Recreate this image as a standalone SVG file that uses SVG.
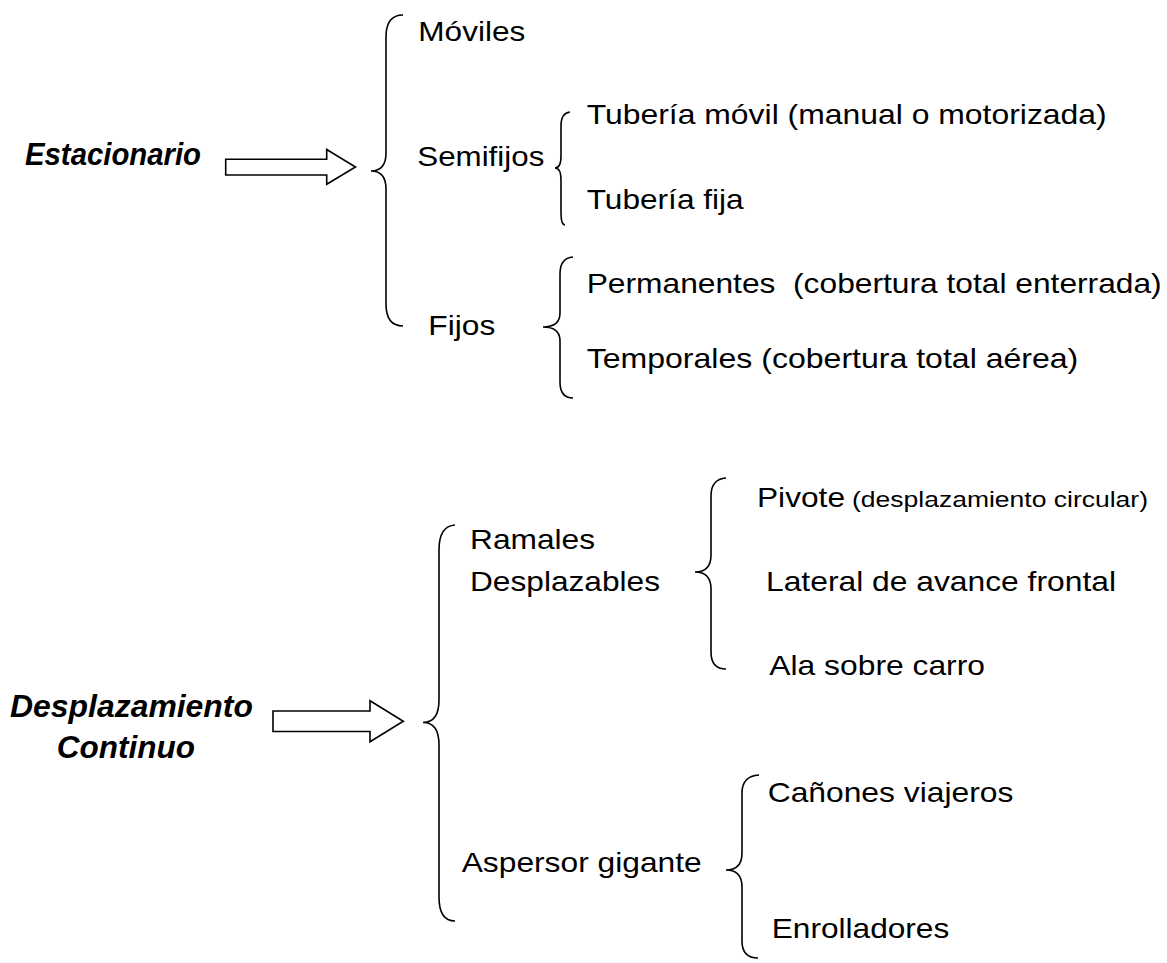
<svg xmlns="http://www.w3.org/2000/svg" width="1167" height="963" viewBox="0 0 1167 963">
<style>
text{font-family:"Liberation Sans",Arial,sans-serif;fill:#000}
.t{font-size:28px}
.b{font-size:31px;font-weight:bold;font-style:italic}
.s{font-size:22px}
.br{fill:none;stroke:#000;stroke-width:1.6}
.ar{fill:#fff;stroke:#000;stroke-width:1.6;stroke-linejoin:miter}
</style>
<rect width="1167" height="963" fill="#fff"/>
<g id="connectors">
<polygon class="ar" points="225.7,159.3 326.7,159.3 326.7,149.5 355.5,167 326.7,184.3 326.7,175 225.7,175"/>
<polygon class="ar" points="273,711 370,711 370,700.7 403.3,721.3 370,741.7 370,731.5 273,731.5"/>
<path class="br" d="M403,15 Q386,15 386,37 L386,153 Q386,171 371,171 Q386,171 386,189 L386,304 Q386,326 403,326"/>
<path class="br" d="M570,112 Q561,113 561,126 L561,156 Q561,168 555,168 Q561,168 561,180 L561,213 Q561,225 565,225"/>
<path class="br" d="M573,257 Q560,258 560,274 L560,313 Q560,327 543,327 Q560,327 560,341 L560,382 Q560,398 573,398"/>
<path class="br" d="M455,525 Q439,526 439,550 L439,700 Q439,722.5 423,722.5 Q439,722.5 439,745 L439,897 Q439,921 455,921"/>
<path class="br" d="M726,478 Q711,479 711,496 L711,555 Q711,572 695,572 Q711,572 711,589 L711,652 Q711,669 726,669"/>
<path class="br" d="M759,775 Q742,776 742,793 L742,853 Q742,870 726,870 Q742,870 742,887 L742,941 Q742,958 758,958"/>
</g>
<g id="estacionario"><text class="b" x="25" y="165.3" textLength="176" lengthAdjust="spacingAndGlyphs">Estacionario</text></g>
<g id="moviles"><text class="t" x="418.3" y="40.7" textLength="107" lengthAdjust="spacingAndGlyphs">Móviles</text></g>
<g id="semifijos"><text class="t" x="417.3" y="166" textLength="127" lengthAdjust="spacingAndGlyphs">Semifijos</text></g>
<g id="fijos"><text class="t" x="428.3" y="335" textLength="67" lengthAdjust="spacingAndGlyphs">Fijos</text></g>
<g id="tuberia-movil"><text class="t" x="586.7" y="124.3" textLength="520" lengthAdjust="spacingAndGlyphs">Tubería móvil (manual o motorizada)</text></g>
<g id="tuberia-fija"><text class="t" x="586.7" y="209.3" textLength="157" lengthAdjust="spacingAndGlyphs">Tubería fija</text></g>
<g id="permanentes"><text class="t" x="586.7" y="293.3" textLength="575" lengthAdjust="spacingAndGlyphs" xml:space="preserve">Permanentes  (cobertura total enterrada)</text></g>
<g id="temporales"><text class="t" x="586.7" y="368.3" textLength="491.6" lengthAdjust="spacingAndGlyphs">Temporales (cobertura total aérea)</text></g>
<g id="desplazamiento">
<text class="b" x="10" y="717.3" textLength="243" lengthAdjust="spacingAndGlyphs">Desplazamiento</text>
<text class="b" x="56.7" y="758.3" textLength="138.3" lengthAdjust="spacingAndGlyphs">Continuo</text>
</g>
<g id="ramales">
<text class="t" x="470" y="549.3" textLength="125" lengthAdjust="spacingAndGlyphs">Ramales</text>
<text class="t" x="470" y="590.7" textLength="190" lengthAdjust="spacingAndGlyphs">Desplazables</text>
</g>
<g id="aspersor"><text class="t" x="461.7" y="871.7" textLength="240" lengthAdjust="spacingAndGlyphs">Aspersor gigante</text></g>
<g id="pivote">
<text class="t" x="757" y="507" textLength="88" lengthAdjust="spacingAndGlyphs">Pivote</text>
<text class="s" x="852" y="507" textLength="296" lengthAdjust="spacingAndGlyphs">(desplazamiento circular)</text>
</g>
<g id="lateral"><text class="t" x="766" y="590.7" textLength="350" lengthAdjust="spacingAndGlyphs">Lateral de avance frontal</text></g>
<g id="ala"><text class="t" x="769.3" y="675" textLength="215.7" lengthAdjust="spacingAndGlyphs">Ala sobre carro</text></g>
<g id="canones"><text class="t" x="767.7" y="802.3" textLength="245.6" lengthAdjust="spacingAndGlyphs">Cañones viajeros</text></g>
<g id="enrolladores"><text class="t" x="771.7" y="938.3" textLength="177.6" lengthAdjust="spacingAndGlyphs">Enrolladores</text></g>
</svg>
